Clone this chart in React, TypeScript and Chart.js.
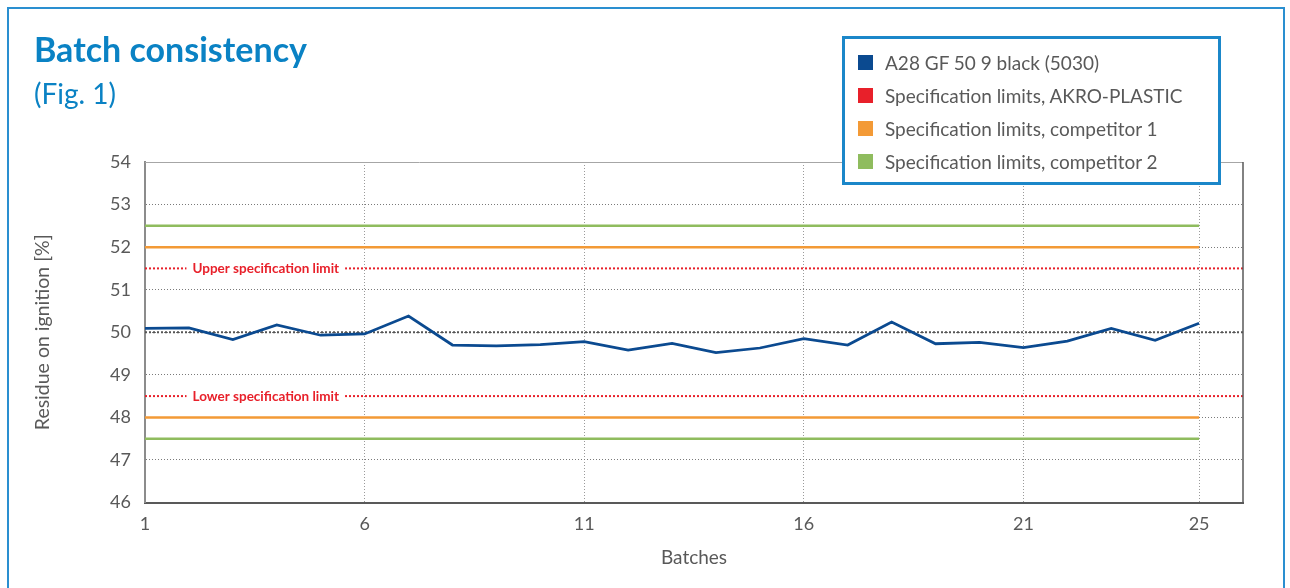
import { useEffect, useRef } from "react";
import { Chart, registerables } from "chart.js";

Chart.register(...registerables);

// ---- data ----
const batches = [1, 2, 3, 4, 5, 6, 7, 8, 9, 10, 11, 12, 13, 14, 15, 16, 17, 18, 19, 20, 21, 22, 23, 24, 25];
const residue = [50.09, 50.1, 49.83, 50.17, 49.93, 49.96, 50.38, 49.7, 49.68, 49.71, 49.78, 49.58, 49.74, 49.52, 49.63, 49.85, 49.7, 50.24, 49.73, 49.76, 49.64, 49.79, 50.09, 49.81, 50.21];
const akroLimits = [48.5, 51.5];
const competitor1Limits = [48, 52];
const competitor2Limits = [47.5, 52.5];
const targetValue = 50;
const specLabels = ["Lower specification limit", "Upper specification limit"];
const specLabelBatch = 3.75;
const xTicks = [1, 6, 11, 16, 21, 25];
const xMin = 1;
const xMax = 26;
const yMin = 46;
const yMax = 54;
const seriesLabel = "A28 GF 50 9 black (5030)";
const legendLabels = [
  "A28 GF 50 9 black (5030)",
  "Specification limits, AKRO-PLASTIC",
  "Specification limits, competitor 1",
  "Specification limits, competitor 2",
];

// ---- styles ----
const BLUE = "#0b4a90";
const RED = "#e8202a";
const ORANGE = "#f39a36";
const GREEN = "#8fbc5e";
const TITLE_BLUE = "#0a82c4";
const TEXT_GRAY = "#595959";
const FONT = "Lato, 'Open Sans', sans-serif";
const legendColors = [BLUE, RED, ORANGE, GREEN];

const firstBatch = batches[0];
const lastBatch = batches[batches.length - 1];

const hLine = (y: number, x0: number, x1: number) => [
  { x: x0, y },
  { x: x1, y },
];

const specLabelPlugin = {
  id: "specLabels",
  afterDatasetsDraw(chart: any) {
    const { ctx, scales } = chart;
    const x = scales.x;
    const y = scales.y;
    ctx.save();
    ctx.font = `bold 13.5px ${FONT}`;
    ctx.textAlign = "center";
    ctx.textBaseline = "middle";
    specLabels.forEach((text, i) => {
      const px = x.getPixelForValue(specLabelBatch);
      const py = y.getPixelForValue(akroLimits[i]);
      const w = ctx.measureText(text).width;
      ctx.fillStyle = "#ffffff";
      ctx.fillRect(px - w / 2 - 6, py - 5, w + 12, 10);
      ctx.fillStyle = RED;
      ctx.fillText(text, px, py + 0.5);
    });
    ctx.restore();
  },
};

const framePlugin = {
  id: "plotFrame",
  afterDatasetsDraw(chart: any) {
    const { ctx, chartArea } = chart;
    ctx.save();
    ctx.strokeStyle = "#a6a6a6";
    ctx.lineWidth = 1;
    ctx.beginPath();
    ctx.moveTo(chartArea.left, chartArea.top + 0.5);
    ctx.lineTo(chartArea.right, chartArea.top + 0.5);
    ctx.stroke();
    ctx.strokeStyle = "#595959";
    ctx.lineWidth = 1.5;
    ctx.beginPath();
    ctx.moveTo(chartArea.right, chartArea.top);
    ctx.lineTo(chartArea.right, chartArea.bottom);
    ctx.stroke();
    ctx.restore();
  },
};

export default function App() {
  const canvasRef = useRef<HTMLCanvasElement | null>(null);

  useEffect(() => {
    if (!canvasRef.current) return;
    Chart.defaults.font.family = FONT;

    const limitDs = (vals: number[], color: string, x0: number, x1: number, label: string, extra: any = {}) =>
      vals.map((v) => ({
        label,
        data: hLine(v, x0, x1),
        borderColor: color,
        backgroundColor: color,
        borderWidth: 2.5,
        pointRadius: 0,
        fill: false,
        ...extra,
      }));

    const chart = new Chart(canvasRef.current, {
      type: "line",
      data: {
        datasets: [
          {
            label: seriesLabel,
            data: batches.map((b, i) => ({ x: b, y: residue[i] })),
            borderColor: BLUE,
            backgroundColor: BLUE,
            borderWidth: 2.75,
            pointRadius: 0,
            tension: 0,
            fill: false,
            order: 0,
          },
          {
            label: "target",
            data: hLine(targetValue, xMin, xMax),
            borderColor: "#555555",
            borderWidth: 2,
            borderDash: [2, 2],
            pointRadius: 0,
            fill: false,
            order: 1,
          },
          ...limitDs(akroLimits, RED, xMin, xMax, legendLabels[1], { borderWidth: 2, borderDash: [2, 2], order: 2 }),
          ...limitDs(competitor1Limits, ORANGE, firstBatch, lastBatch, legendLabels[2], { order: 3 }),
          ...limitDs(competitor2Limits, GREEN, firstBatch, lastBatch, legendLabels[3], { order: 4 }),
        ],
      },
      options: {
        animation: false,
        responsive: false,
        devicePixelRatio: 1,
        parsing: false as any,
        layout: { padding: { top: 162, right: 47, left: 0, bottom: 0 } },
        plugins: {
          legend: { display: false },
          tooltip: { enabled: false },
          title: { display: false },
        },
        scales: {
          x: {
            type: "linear",
            min: xMin,
            max: xMax,
            afterBuildTicks: (scale: any) => {
              scale.ticks = xTicks.map((v) => ({ value: v }));
            },
            afterFit: (scale: any) => {
              scale.height = 85.5;
            },
            ticks: {
              color: TEXT_GRAY,
              font: { size: 18, family: FONT },
              padding: 11,
              maxRotation: 0,
              autoSkip: false,
              callback: (v: any) => String(v),
            },
            grid: {
              drawTicks: false,
              color: (ctx: any) => (ctx.tick && ctx.tick.value === xMin ? "rgba(0,0,0,0)" : "#9a9a9a"),
              lineWidth: 1,
            },
            border: { display: true, color: "#595959", width: 2, dash: [1, 2] },
            title: {
              display: true,
              text: "Batches",
              color: TEXT_GRAY,
              font: { size: 19, family: FONT },
              padding: { top: 0, bottom: 19 },
            },
          },
          y: {
            type: "linear",
            min: yMin,
            max: yMax,
            afterFit: (scale: any) => {
              scale.width = 145;
            },
            ticks: {
              stepSize: 1,
              color: TEXT_GRAY,
              font: { size: 18, family: FONT },
              padding: 14,
            },
            grid: {
              drawTicks: false,
              color: (ctx: any) =>
                ctx.tick && (ctx.tick.value === yMin || ctx.tick.value === yMax) ? "rgba(0,0,0,0)" : "#7a7a7a",
              lineWidth: 1,
            },
            border: { display: true, color: "#8c8c8c", width: 2, dash: [1, 2] },
            title: {
              display: true,
              text: "Residue on ignition [%]",
              color: TEXT_GRAY,
              font: { size: 19.5, family: FONT },
              padding: { top: 31, bottom: 0 },
            },
          },
        },
      } as any,
      plugins: [framePlugin, specLabelPlugin],
    });

    let alive = true;
    if ((document as any).fonts && (document as any).fonts.load) {
      Promise.all([
        (document as any).fonts.load(`18px Lato`),
        (document as any).fonts.load(`bold 13px Lato`),
      ])
        .then(() => {
          if (alive) chart.update("none");
        })
        .catch(() => {});
    }

    return () => {
      alive = false;
      chart.destroy();
    };
  }, []);

  return (
    <div
      style={{
        position: "absolute",
        left: 0,
        top: 0,
        width: 1290,
        height: 588,
        overflow: "hidden",
        background: "#ffffff",
        fontFamily: FONT,
      }}
    >
      <canvas ref={canvasRef} width={1290} height={588} style={{ position: "absolute", left: 0, top: 0 }} />
      <div
        style={{
          position: "absolute",
          left: 7,
          top: 7,
          width: 1274,
          height: 640,
          border: `2px solid ${"#2a8fd0"}`,
          pointerEvents: "none",
        }}
      />
      <div
        style={{
          position: "absolute",
          left: 34,
          top: 28.5,
          fontSize: 34,
          fontWeight: 700,
          lineHeight: 1.2,
          color: TITLE_BLUE,
          whiteSpace: "nowrap",
        }}
      >
        Batch consistency
      </div>
      <div
        style={{
          position: "absolute",
          left: 34,
          top: 76.5,
          fontSize: 28,
          lineHeight: 1.2,
          color: TITLE_BLUE,
          whiteSpace: "nowrap",
        }}
      >
        (Fig. 1)
      </div>
      <div
        style={{
          position: "absolute",
          left: 842,
          top: 36,
          width: 373,
          height: 143,
          border: "3px solid #1b87c9",
          background: "#ffffff",
        }}
      >
        {legendLabels.map((label, i) => (
          <div
            key={label}
            style={{
              position: "absolute",
              left: 13,
              top: 6.5 + 33 * i,
              height: 33,
              display: "flex",
              alignItems: "center",
              whiteSpace: "nowrap",
            }}
          >
            <span
              style={{
                display: "inline-block",
                width: 15,
                height: 15,
                background: legendColors[i],
                marginRight: 12,
              }}
            />
            <span style={{ fontSize: 19, color: TEXT_GRAY }}>{label}</span>
          </div>
        ))}
      </div>
    </div>
  );
}
